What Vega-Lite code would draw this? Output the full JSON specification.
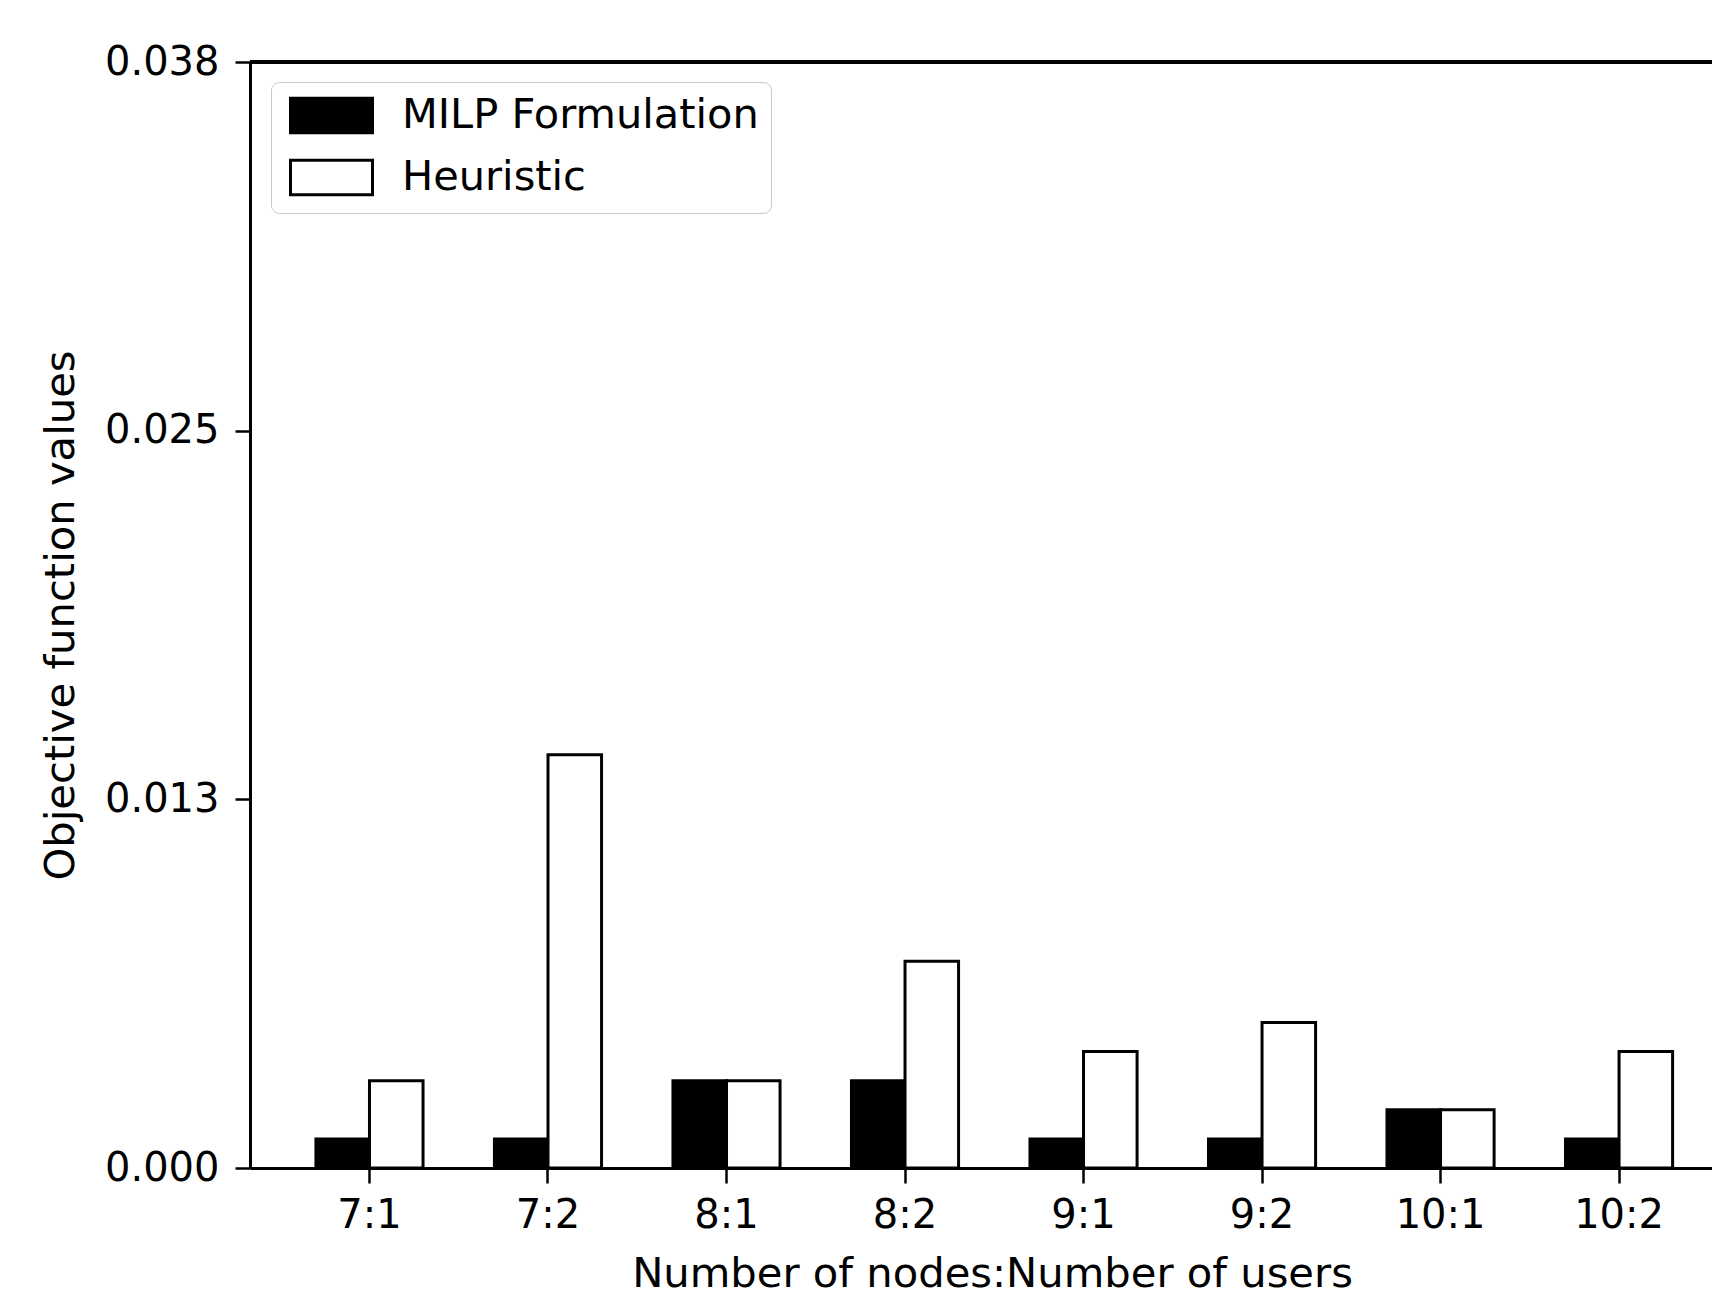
{
  "$schema": "https://vega.github.io/schema/vega-lite/v6.json",
  "autosize": "none",
  "width": 1462,
  "height": 1106,
  "padding": {"left": 250, "top": 62, "right": 0, "bottom": 129},
  "background": "white",
  "config": {
    "view": {"stroke": null},
    "font": "DejaVu Sans",
    "axis": {
      "grid": false,
      "domainColor": "black",
      "domainWidth": 3,
      "tickColor": "black",
      "tickWidth": 2.5,
      "tickSize": 15,
      "labelColor": "black",
      "labelFont": "DejaVu Sans",
      "labelFontSize": 40,
      "titleFont": "DejaVu Sans",
      "titleFontSize": 41.7,
      "titleFontWeight": "normal",
      "titleColor": "black"
    }
  },
  "data": {
    "values": [
      {"config": "7:1", "method": "MILP Formulation", "value": 0.001},
      {"config": "7:1", "method": "Heuristic", "value": 0.003},
      {"config": "7:2", "method": "MILP Formulation", "value": 0.001},
      {"config": "7:2", "method": "Heuristic", "value": 0.0142},
      {"config": "8:1", "method": "MILP Formulation", "value": 0.003},
      {"config": "8:1", "method": "Heuristic", "value": 0.003},
      {"config": "8:2", "method": "MILP Formulation", "value": 0.003},
      {"config": "8:2", "method": "Heuristic", "value": 0.0071},
      {"config": "9:1", "method": "MILP Formulation", "value": 0.001},
      {"config": "9:1", "method": "Heuristic", "value": 0.004},
      {"config": "9:2", "method": "MILP Formulation", "value": 0.001},
      {"config": "9:2", "method": "Heuristic", "value": 0.005},
      {"config": "10:1", "method": "MILP Formulation", "value": 0.002},
      {"config": "10:1", "method": "Heuristic", "value": 0.002},
      {"config": "10:2", "method": "MILP Formulation", "value": 0.001},
      {"config": "10:2", "method": "Heuristic", "value": 0.004}
    ]
  },
  "layer": [
    {
      "mark": {"type": "bar", "stroke": "black", "strokeWidth": 3, "strokeJoin": "miter"},
      "encoding": {
        "x": {
          "field": "config",
          "type": "nominal",
          "sort": null,
          "scale": {"paddingInner": 0.4, "paddingOuter": 0.295, "align": 0.626},
          "axis": {"labelAngle": 0, "labelPadding": 12, "title": "Number of nodes:Number of users", "titlePadding": 18, "titleX": 742}
        },
        "xOffset": {
          "field": "method",
          "type": "nominal",
          "sort": ["MILP Formulation", "Heuristic"],
          "scale": {"paddingInner": 0, "paddingOuter": 0}
        },
        "y": {
          "field": "value",
          "type": "quantitative",
          "scale": {"domain": [0, 0.038], "nice": false, "zero": true},
          "axis": {
            "values": [0, 0.012667, 0.025333, 0.038],
            "format": ".3f",
            "labelPadding": 16,
            "title": "Objective function values",
            "titlePadding": 22
          }
        },
        "color": {
          "field": "method",
          "type": "nominal",
          "sort": ["MILP Formulation", "Heuristic"],
          "scale": {"domain": ["MILP Formulation", "Heuristic"], "range": ["black", "white"]},
          "legend": {
            "title": null,
            "orient": "none",
            "legendX": 21,
            "legendY": 20,
            "symbolType": "M-2.05,-0.86H2.05V0.86H-2.05Z",
            "symbolSize": 1600,
            "symbolOffset": 27,
            "symbolStrokeColor": "black",
            "symbolStrokeWidth": 3,
            "labelFont": "DejaVu Sans",
            "labelFontSize": 41.5,
            "labelColor": "black",
            "labelLimit": 800,
            "labelOffset": 49,
            "rowPadding": 15,
            "padding": 12,
            "strokeColor": "#c8c8c8",
            "cornerRadius": 8,
            "fillColor": "white"
          }
        }
      }
    },
    {
      "mark": {"type": "rule", "color": "black", "strokeWidth": 3},
      "encoding": {"y": {"datum": 0.038}}
    }
  ]
}
